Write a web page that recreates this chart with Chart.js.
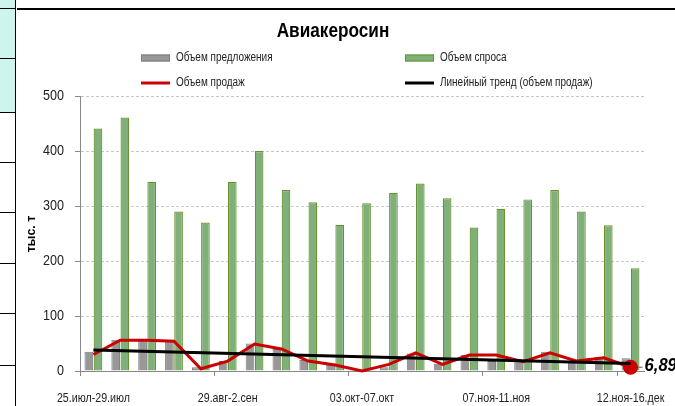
<!DOCTYPE html>
<html>
<head>
<meta charset="utf-8">
<script src="https://cdn.jsdelivr.net/npm/chart.js"></script>
<style>
  body { margin: 0; background: #fff; }
  #wrap { position: relative; width: 675px; height: 406px; overflow: hidden; }
  .cyan { position: absolute; left: 0; top: 0; width: 15px; height: 112px; background: #cdf4ef; }
  .hl { position: absolute; left: 0; width: 16px; height: 1px; background: #000; }
  .vl { position: absolute; left: 15px; top: 0; width: 1px; height: 406px; background: #000; }
  .topline { position: absolute; left: 17px; top: 8px; width: 658px; height: 2px; background: #000; }
  canvas { position: absolute; left: 0; top: 0; }
</style>
</head>
<body>
<div id="wrap">
  <div class="cyan"></div>
  <div class="hl" style="top:8px"></div>
  <div class="hl" style="top:58px"></div>
  <div class="hl" style="top:112px"></div>
  <div class="hl" style="top:162px"></div>
  <div class="hl" style="top:212px"></div>
  <div class="hl" style="top:263px"></div>
  <div class="hl" style="top:313px"></div>
  <div class="hl" style="top:365px"></div>
  <div class="vl"></div>
  <div class="topline"></div>
  <canvas id="chart" width="675" height="406"></canvas>
</div>
<script>
// weekly periods
const weeks = [
  '25.июл-29.июл', '01.авг-05.авг', '08.авг-12.авг', '15.авг-19.авг', '22.авг-26.авг',
  '29.авг-2.сен', '05.сен-09.сен', '12.сен-16.сен', '19.сен-23.сен', '26.сен-30.сен',
  '03.окт-07.окт', '10.окт-14.окт', '17.окт-21.окт', '24.окт-28.окт', '31.окт-04.ноя',
  '07.ноя-11.ноя', '14.ноя-18.ноя', '21.ноя-25.ноя', '28.ноя-02.дек', '05.дек-09.дек',
  '12.ноя-16.дек'
];
const supply = [35, 57, 55, 53, 7, 18, 50, 40, 20, 11, 1, 7, 32, 13, 29, 18, 17, 35, 18, 25, 23];
const demand = [441, 461, 344, 290, 270, 344, 400, 329, 307, 266, 305, 324, 341, 314, 261, 295, 312, 329, 290, 265, 187];
const sales = [30, 56, 56, 54, 4, 18, 49, 40, 18, 11, 0, 12, 33, 12, 29, 29, 17, 33, 18, 24, 6.89];
// trend line end points
const trend = [38.1, null, null, null, null, null, null, null, null, null, null,
  null, null, null, null, null, null, null, null, null, 13.8];
const yTicks = [0, 100, 200, 300, 400, 500];

const FONT = '"Liberation Sans", Arial, sans-serif';
const title = 'Авиакеросин';
const yTitle = 'тыс. т';

// text squeezed horizontally, the original font is a narrow one
function txt(ctx, s, x, y, align, sx) {
  ctx.save();
  ctx.translate(x, y);
  ctx.scale(sx, 1);
  ctx.textAlign = align;
  ctx.fillText(s, 0, 0);
  ctx.restore();
}

const overlay = {
  id: 'overlay',
  afterDraw(chart) {
    const ctx = chart.ctx;
    const ds = chart.data.datasets;
    const xs = chart.scales.x;
    const ys = chart.scales.y;
    ctx.save();
    ctx.fillStyle = '#000';
    ctx.textBaseline = 'alphabetic';
    ctx.font = 'bold 20px ' + FONT;
    txt(ctx, title, 333, 37, 'center', 0.86);

    // legend, two columns
    ctx.font = '12px ' + FONT;
    ctx.textBaseline = 'middle';
    const items = [
      { ds: ds[2], x: 141, y: 58, box: true },
      { ds: ds[3], x: 405, y: 58, box: true },
      { ds: ds[1], x: 141, y: 83, box: false },
      { ds: ds[0], x: 405, y: 83, box: false }
    ];
    items.forEach(it => {
      if (it.box) {
        ctx.fillStyle = it.ds.backgroundColor;
        ctx.fillRect(it.x, it.y - 3.5, 29, 7);
        ctx.strokeStyle = it.ds.borderColor;
        ctx.lineWidth = 1;
        ctx.strokeRect(it.x + 0.5, it.y - 3, 28, 6);
      } else {
        ctx.strokeStyle = it.ds.borderColor;
        ctx.lineWidth = 3;
        ctx.beginPath();
        ctx.moveTo(it.x, it.y);
        ctx.lineTo(it.x + 29, it.y);
        ctx.stroke();
      }
      ctx.fillStyle = '#222';
      txt(ctx, it.ds.label, it.x + 35, it.y, 'left', 0.83);
    });

    // tick labels
    ctx.fillStyle = '#222';
    ctx.font = '15px ' + FONT;
    yTicks.forEach(v => txt(ctx, String(v), 64, ys.getPixelForValue(v), 'right', 0.84));
    ctx.font = '13px ' + FONT;
    weeks.forEach((w, i) => {
      if (i % 5 === 0) txt(ctx, w, xs.getPixelForValue(i), 398, 'center', 0.82);
    });

    // axis title
    ctx.save();
    ctx.translate(31, 234);
    ctx.rotate(-Math.PI / 2);
    ctx.font = 'bold 13px ' + FONT;
    ctx.fillStyle = '#000';
    txt(ctx, yTitle, 0, 0, 'center', 0.95);
    ctx.restore();

    // last value label
    const last = sales.length - 1;
    const pt = chart.getDatasetMeta(1).data[last];
    ctx.strokeStyle = '#555';
    ctx.lineWidth = 1;
    ctx.beginPath();
    ctx.moveTo(pt.x + 8, pt.y);
    ctx.lineTo(pt.x + 12, pt.y);
    ctx.stroke();
    ctx.font = 'italic bold 18px ' + FONT;
    ctx.fillStyle = '#000';
    txt(ctx, String(sales[last]).replace('.', ','), pt.x + 14, pt.y - 1, 'left', 0.92);
    ctx.restore();
  }
};

new Chart(document.getElementById('chart'), {
  type: 'bar',
  data: {
    labels: weeks,
    datasets: [
      {
        type: 'line',
        label: 'Линейный тренд (объем продаж)',
        data: trend,
        borderColor: '#000',
        borderWidth: 3,
        pointRadius: 0,
        spanGaps: true,
        order: 1
      },
      {
        type: 'line',
        label: 'Объем продаж',
        data: sales,
        borderColor: '#cc0000',
        backgroundColor: '#cc0000',
        borderWidth: 3,
        tension: 0,
        pointRadius: ctx => ctx.dataIndex === sales.length - 1 ? 7.5 : 0,
        pointBorderWidth: 0,
        pointBackgroundColor: '#cc0000',
        clip: false,
        order: 2
      },
      {
        label: 'Объем предложения',
        data: supply,
        backgroundColor: '#989898',
        borderColor: '#7c7c7c',
        borderWidth: 1,
        barPercentage: 0.95,
        categoryPercentage: 0.68,
        order: 3
      },
      {
        label: 'Объем спроса',
        data: demand,
        backgroundColor: '#7fb07a',
        borderColor: '#6a9330',
        borderWidth: 1.2,
        barPercentage: 0.95,
        categoryPercentage: 0.68,
        order: 3
      }
    ]
  },
  options: {
    responsive: false,
    animation: false,
    devicePixelRatio: 1,
    layout: { padding: { left: 40, right: 31, top: 96, bottom: 0 } },
    plugins: {
      legend: { display: false },
      tooltip: { enabled: false }
    },
    scales: {
      x: {
        offset: true,
        afterFit: s => { s.height = 35; },
        grid: {
          offset: true,
          drawOnChartArea: false,
          tickLength: 5,
          color: 'transparent',
          tickColor: c => c.index % 5 === 0 ? '#888' : 'transparent'
        },
        border: { color: '#888', width: 1 },
        ticks: { display: false }
      },
      y: {
        min: 0,
        max: 500,
        afterFit: s => { s.width = 40; },
        afterBuildTicks: s => { s.ticks = yTicks.map(v => ({ value: v })); },
        grid: {
          color: c => c.tick && c.tick.value === 0 ? 'transparent' : '#c8c8c8',
          tickColor: '#888',
          tickLength: 5,
          tickBorderDash: []
        },
        border: { color: '#888', width: 1, dash: [3, 2] },
        ticks: { display: false }
      }
    }
  },
  plugins: [overlay]
});
</script>
</body>
</html>
